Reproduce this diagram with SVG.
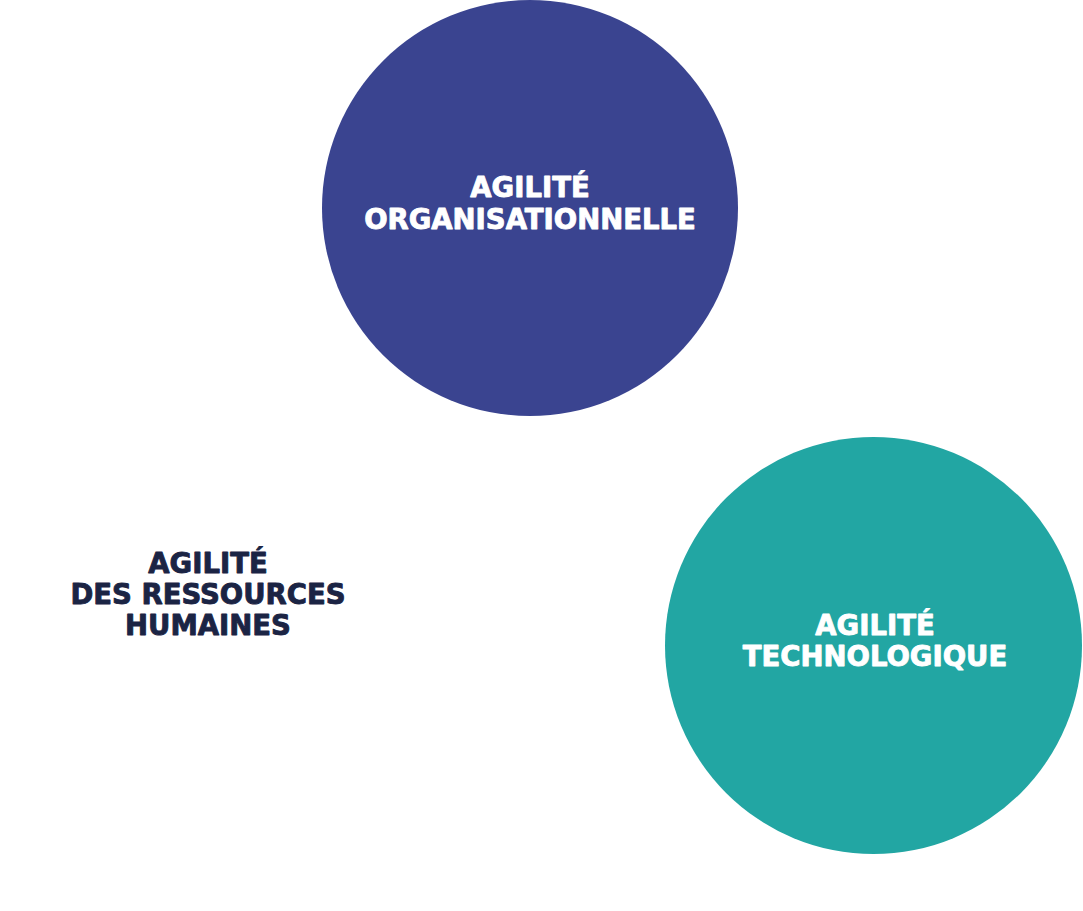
<svg xmlns="http://www.w3.org/2000/svg" width="1083" height="911" viewBox="0 0 1083 911">
<style>
.lbl{font-family:"DejaVu Sans","Liberation Sans",sans-serif;font-weight:bold;font-size:27.5px;text-anchor:middle;stroke-width:0.9px;stroke-linejoin:round}
.w{fill:#ffffff;stroke:#ffffff}
.d{fill:#1b2444;stroke:#1b2444}
</style>
<rect width="1083" height="911" fill="#ffffff"/>
<g id="connectors"/>
<g id="node-organisationnelle">
<circle cx="530" cy="208" r="208" fill="#3a4490"/>
<text class="lbl w" x="530" y="197">AGILITÉ</text>
<text class="lbl w" x="530" y="229">ORGANISATIONNELLE</text>
</g>
<g id="node-technologique">
<circle cx="873.5" cy="645.5" r="208.5" fill="#22a6a3"/>
<text class="lbl w" x="875" y="635">AGILITÉ</text>
<text class="lbl w" x="875" y="666">TECHNOLOGIQUE</text>
</g>
<g id="node-rh">
<text class="lbl d" x="208" y="573">AGILITÉ</text>
<text class="lbl d" x="208" y="604">DES RESSOURCES</text>
<text class="lbl d" x="208" y="635">HUMAINES</text>
</g>
</svg>
